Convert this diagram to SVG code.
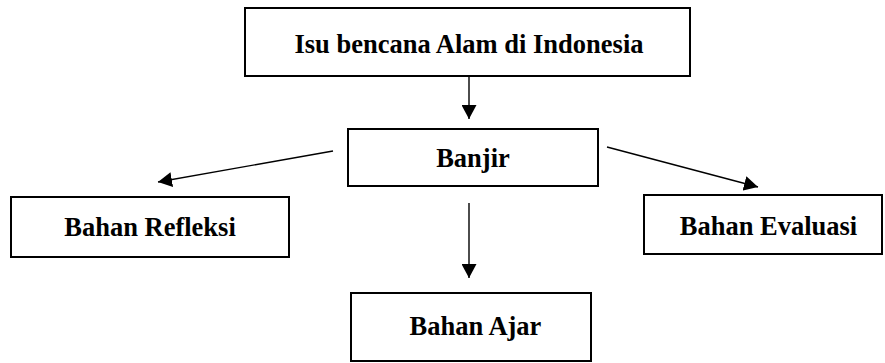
<svg xmlns="http://www.w3.org/2000/svg" width="885" height="363" viewBox="0 0 885 363">
<defs>
<style>
.box{fill:#fff;stroke:#000;stroke-width:2}
.lbl{font-family:"Liberation Serif","Times New Roman",serif;font-weight:bold;font-size:26.5px;fill:#000;text-anchor:middle}
.con{stroke:#000;stroke-width:1.4;fill:none;marker-end:url(#ah)}
</style>
<marker id="ah" viewBox="0 0 14 15" refX="14" refY="7.5" markerWidth="14" markerHeight="15" markerUnits="userSpaceOnUse" orient="auto">
<path d="M0,0 L14,7.5 L0,15 z" fill="#000"/>
</marker>
</defs>
<rect width="885" height="363" fill="#fff"/>
<g id="connectors">
<line class="con" x1="469" y1="76" x2="469" y2="119"/>
<line class="con" x1="333" y1="151" x2="158" y2="182"/>
<line class="con" x1="607" y1="147" x2="758" y2="187"/>
<line class="con" x1="469" y1="203" x2="469" y2="278"/>
</g>
<g id="isu">
<rect class="box" x="245" y="8" width="445" height="68"/>
<text class="lbl" x="469" y="52.5">Isu bencana Alam di Indonesia</text>
</g>
<g id="banjir">
<rect class="box" x="348" y="129" width="250" height="57"/>
<text class="lbl" x="473" y="167">Banjir</text>
</g>
<g id="refleksi">
<rect class="box" x="11" y="197" width="278" height="60"/>
<text class="lbl" x="150" y="236">Bahan Refleksi</text>
</g>
<g id="evaluasi">
<rect class="box" x="644" y="195" width="238" height="59"/>
<text class="lbl" x="768.5" y="235">Bahan Evaluasi</text>
</g>
<g id="ajar">
<rect class="box" x="351" y="293" width="240" height="68"/>
<text class="lbl" x="475.5" y="335">Bahan Ajar</text>
</g>
</svg>
